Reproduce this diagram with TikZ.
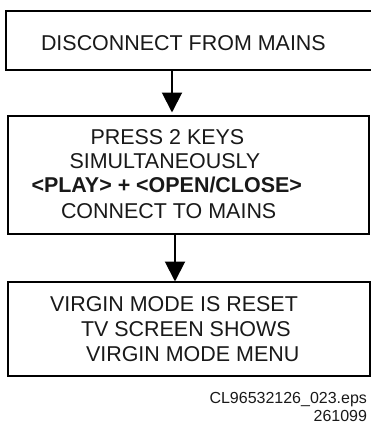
\documentclass[tikz,border=0pt]{standalone}
\usepackage{fontspec}
\setmainfont{Liberation Sans}
\usetikzlibrary{arrows.meta}
\tikzset{
  box/.style={draw=black,line width=2pt,fill=white,rectangle,anchor=north west,inner sep=0pt,outer sep=0pt},
  flow/.style={draw=black,line width=2pt,-{Triangle[length=20pt,width=20pt]},shorten >=0pt},
  lbl/.style={anchor=base west,inner sep=0pt,outer sep=0pt,font=\fontsize{21.45pt}{24pt}\selectfont,text=black!90},
  captxt/.style={anchor=base east,inner sep=0pt,outer sep=0pt,font=\fontsize{16pt}{18pt}\selectfont,text=black!90}
}
\begin{document}
\begin{tikzpicture}[x=1pt,y=-1pt]
\useasboundingbox (0,0) rectangle (371,423);
\clip (0,0) rectangle (371,423);
\node[box,minimum width=372pt,minimum height=59.5pt] (b1) at (5.5,10.5) {};
\node[box,minimum width=361.5pt,minimum height=118pt] (b2) at (7.5,116) {};
\node[box,minimum width=362.5pt,minimum height=94pt] (b3) at (7.5,282) {};
\coordinate (a1s) at (172,70);
\coordinate (a1e) at (172,112.5);
\coordinate (a2s) at (175,234);
\coordinate (a2e) at (175,281.5);
\draw[flow] (a1s) -- (a1e);
\draw[flow] (a2s) -- (a2e);
\node[lbl] (t1) at (41,50.5) {DISCONNECT FROM MAINS};
\node[lbl] (t2) at (90.5,144) {PRESS 2 KEYS};
\node[lbl] (t3) at (69.5,168) {SIMULTANEOUSLY};
\node[lbl] (t4) at (31.5,192.5) {\bfseries <PLAY> + <OPEN/CLOSE>};
\node[lbl] (t5) at (61,218) {CONNECT TO MAINS};
\node[lbl] (t6) at (50,311.5) {VIRGIN MODE IS RESET};
\node[lbl] (t7) at (81,336.5) {TV SCREEN SHOWS};
\node[lbl] (t8) at (86,361) {VIRGIN MODE MENU};
\node[captxt] (c1) at (367,403) {CL96532126\_023.eps};
\node[captxt] (c2) at (367,421) {261099};
\end{tikzpicture}
\end{document}
